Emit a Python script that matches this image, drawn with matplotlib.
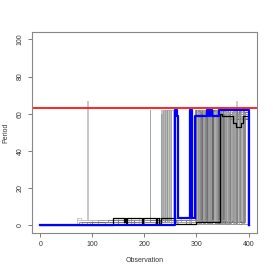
import numpy as np
import matplotlib
matplotlib.use("Agg")
import matplotlib.pyplot as plt

plt.rcParams["font.family"] = ["Liberation Sans", "DejaVu Sans"]

# %%
# gray runs: baseline steps (x, y) and high blocks (start, end, level)
gray_low = [
    [(0, 0), (52, 1), (70, 4), (78, 3)],
    [(0, 0), (60, 1), (100, 3), (260, 2)],
    [(0, 0), (80, 2), (140, 3), (262, 1)],
    [(0, 0), (95, 2), (150, 4), (200, 3), (265, 1)],
    [(0, 0), (120, 1), (175, 4), (240, 2)],
    [(0, 0), (140, 2), (190, 4), (270, 2)],
    [(0, 0), (150, 3), (230, 1), (300, 2)],
    [(0, 0), (180, 3), (280, 1)],
    [(0, 0), (200, 4), (290, 1)],
    [(0, 0), (70, 3), (170, 2)],
    [(0, 0), (90, 2), (260, 3), (320, 1)],
    [(0, 0), (110, 3), (250, 1)],
    [(0, 0), (75, 2), (130, 3), (280, 2)],
    [(0, 0), (85, 1), (160, 3), (300, 1)],
    [(0, 0), (100, 2), (210, 3), (310, 2)],
    [(0, 0), (65, 1), (190, 2), (290, 3)],
    [(0, 0), (125, 2), (240, 3), (330, 1)],
    [(0, 0), (105, 1), (220, 2), (305, 1)],
]
gray_high = [
    [(90, 91, 67), (232, 236, 62), (301, 318, 61), (332, 336, 62), (352, 398, 60)],
    [(210, 211, 62), (240, 244, 62), (305, 310, 62), (326, 330, 61), (360, 372, 59), (380, 398, 61)],
    [(236, 240, 62), (247, 252, 62), (300, 303, 60), (312, 322, 62), (338, 344, 60), (356, 398, 58)],
    [(252, 257, 62), (285, 287, 62), (308, 314, 61), (322, 326, 62), (345, 350, 59), (364, 376, 61), (386, 398, 60)],
    [(243, 248, 62), (297, 302, 59), (316, 320, 62), (330, 346, 61), (370, 398, 62)],
    [(256, 259, 62), (303, 306, 62), (319, 324, 60), (333, 340, 62), (348, 360, 60), (374, 384, 59), (390, 398, 62)],
    [(327, 331, 62), (341, 398, 59)],
    [(325, 329, 61), (336, 343, 62), (354, 398, 57)],
    [(304, 309, 60), (322, 325, 62), (343, 346, 60), (362, 398, 60)],
    [(300, 316, 62), (328, 338, 61), (358, 375, 61), (376, 377, 67), (378, 398, 61)],
    [(232, 234, 60), (310, 318, 62), (342, 352, 62), (366, 398, 59)],
    [(238, 241, 62), (249, 251, 62), (299, 301, 62), (314, 316, 61), (335, 337, 62), (350, 356, 62), (378, 398, 61)],
    [(302, 305, 62), (311, 313, 62), (321, 323, 61), (331, 334, 62), (344, 347, 62), (353, 357, 60), (368, 371, 61), (383, 386, 62), (392, 398, 60)],
    [(306, 308, 61), (315, 317, 62), (324, 327, 62), (337, 339, 60), (346, 349, 62), (359, 363, 61), (372, 375, 62), (388, 398, 59)],
    [(298, 300, 62), (309, 311, 60), (318, 321, 62), (329, 332, 62), (340, 342, 61), (351, 354, 62), (365, 369, 60), (377, 381, 62), (394, 398, 61)],
    [(234, 237, 62), (245, 247, 62), (254, 256, 62), (301, 304, 61), (313, 315, 62), (334, 336, 61), (355, 358, 62), (369, 373, 60), (385, 398, 62)],
    [(307, 309, 62), (317, 319, 61), (339, 341, 62), (347, 349, 60), (361, 364, 62), (375, 378, 61), (389, 392, 62)],
    [(303, 305, 61), (312, 315, 62), (323, 326, 60), (337, 340, 62), (357, 360, 61), (371, 374, 62), (382, 398, 60)],
]
gray_cols = ["#b8b8b8", "#a8a8a8", "#9a9a9a", "#b0b0b0", "#8c8c8c", "#a0a0a0",
             "#5c5c5c", "#4a4a4a", "#707070", "#c0c0c0", "#909090", "#a4a4a4",
             "#7c7c7c", "#989898", "#6a6a6a", "#b4b4b4", "#848484", "#9e9e9e"]

black_x = [0, 139, 160, 162, 165, 167, 195, 197, 222, 225, 228, 231, 258, 300,
           346, 349, 371, 375, 386, 389, 398, 400]
black_y = [0, 4, 2, 4, 1, 4, 1, 4, 1, 4, 1, 4, 1, 2,
           60, 59, 55, 53, 55, 59, 0, 0]

blue_x = [0, 258, 262, 265, 288, 291, 297, 320, 324, 326, 330, 343, 400]
blue_y = [0, 62, 59, 4, 62, 4, 59, 62, 59, 62, 59, 62, 0]

red_level = 63


def build_steps(low, high):
    # merge baseline steps with high blocks
    xs = np.arange(0, 401)
    ys = np.zeros(len(xs))
    for x0, y0 in low:
        ys[xs >= x0] = y0
    for a, b, lev in high:
        ys[(xs >= a) & (xs < b)] = lev
    ys[-1] = 0
    return xs, ys


# %%
fig = plt.figure(figsize=(2.73, 2.73), dpi=100)
ax = fig.add_axes([0.117, 0.147, 0.824, 0.736])

for low, high, col in zip(gray_low, gray_high, gray_cols):
    xs, ys = build_steps(low, high)
    ax.plot(xs, ys, drawstyle="steps-post", color=col, linewidth=0.55)

ax.plot(black_x, black_y, drawstyle="steps-post", color="black", linewidth=0.9)
ax.plot(blue_x, blue_y, drawstyle="steps-post", color="#0000ff", linewidth=1.6)
ax.axhline(red_level, color="#ff0000", linewidth=1.2)

ax.set_xlim(-16, 416)
ax.set_ylim(-4, 104)
ax.set_xticks([0, 100, 200, 300, 400])
ax.set_yticks([0, 20, 40, 60, 80, 100])
ax.tick_params(labelsize=5, length=3, width=0.6, color="#666666",
               labelcolor="#333333", pad=3)
for lab in ax.get_yticklabels():
    lab.set_rotation(90)
    lab.set_va("center")
for sp in ax.spines.values():
    sp.set_color("#888888")
    sp.set_linewidth(0.8)
ax.set_xlabel("Observation", fontsize=5, color="#333333", labelpad=6)
ax.set_ylabel("Period", fontsize=5, color="#333333", labelpad=5)

fig.savefig("out.png", dpi=100)
